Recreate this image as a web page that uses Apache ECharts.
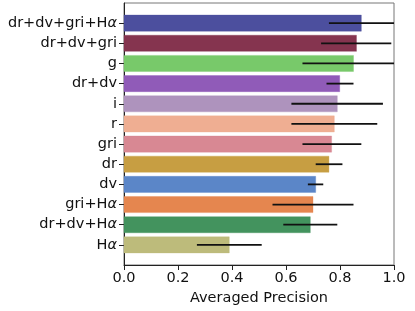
<!DOCTYPE html>
<html><head><meta charset="utf-8">
<script src="https://cdn.jsdelivr.net/npm/echarts@6/dist/echarts.min.js"></script>
<style>html,body{margin:0;padding:0;background:#fff}#c{width:415px;height:311px}</style>
</head><body><div id="c"></div>
<script>
const categories = ['dr+dv+gri+Hα','dr+dv+gri','g','dr+dv','i','r','gri','dr','dv','gri+Hα','dr+dv+Hα','Hα'];
const values = [0.879,0.861,0.850,0.799,0.790,0.779,0.769,0.759,0.710,0.700,0.690,0.390];
const errLow = [0.759,0.730,0.661,0.750,0.620,0.620,0.661,0.710,0.681,0.550,0.590,0.270];
const errHigh = [1.0,0.990,1.0,0.850,0.959,0.938,0.879,0.809,0.738,0.850,0.790,0.510];
const xTicks = [0,0.2,0.4,0.6,0.8,1.0];
const colors = ['#4c4f9e','#85344f','#78c96a','#905bb8','#ae93bd','#efae92','#d88893','#c79e42','#5b86c8','#e5864f','#43935e','#bdbb7b'];

function hexA(h,a){const n=parseInt(h.slice(1),16);return `rgba(${n>>16},${(n>>8)&255},${n&255},${a})`;}
function fmtLabel(s){ return s.replace(/α/g,'{a|α}'); }
const font = 'DejaVu Sans';
const fs = 14.5;
const chart = echarts.init(document.getElementById('c'),null,{renderer:'canvas'});
chart.setOption({
  animation:false,
  grid:{left:124,right:21,top:3,bottom:46,show:true,borderColor:'#777',borderWidth:1,backgroundColor:'transparent'},
  xAxis:{type:'value',min:xTicks[0],max:xTicks[xTicks.length-1],interval:0.2,
    axisLine:{show:true,onZero:false,lineStyle:{color:'#222',width:1}},
    axisTick:{show:true,length:5,lineStyle:{color:'#222'}},
    splitLine:{show:false},
    axisLabel:{color:'#111',fontFamily:font,fontSize:fs,margin:6,formatter:v=>v.toFixed(1)},
    name:'Averaged Precision',nameLocation:'middle',nameGap:24,
    nameTextStyle:{color:'#111',fontFamily:font,fontSize:fs}},
  yAxis:{type:'value',min:-1,max:12,inverse:true,
    axisLine:{show:true,onZero:false,lineStyle:{color:'#222',width:1}},
    axisTick:{show:true,length:5,lineStyle:{color:'#222'},customValues:categories.map((c,i)=>i)},
    splitLine:{show:false},
    axisLabel:{customValues:categories.map((c,i)=>i),color:'#111',fontFamily:font,fontSize:fs,margin:7,
      formatter:v=>{const i=Math.round(v);return (i>=0&&i<categories.length)?fmtLabel(categories[i]):'';},
      rich:{a:{fontFamily:font,fontSize:fs,fontStyle:'italic',color:'#111'}}}},
  series:[
    {type:'custom',
      data:values.map((v,i)=>[v,i]),
      renderItem:(params,api)=>{
        const i=api.value(1);
        const p0=api.coord([0,i-0.4]);
        const p1=api.coord([api.value(0),i+0.4]);
        const c=colors[params.dataIndex];
        return {type:'rect',shape:{x:p0[0],y:Math.min(p0[1],p1[1]),width:p1[0]-p0[0],height:Math.abs(p1[1]-p0[1])},
          style:{fill:c,stroke:hexA(c,0.35),lineWidth:1}};
      },
      encode:{x:0,y:1}},
    {type:'custom',z:10,
      data:errLow.map((l,i)=>[l,errHigh[i],i]),
      renderItem:(params,api)=>{
        const a=api.coord([api.value(0),api.value(2)]);
        const b=api.coord([api.value(1),api.value(2)]);
        return {type:'line',shape:{x1:a[0],y1:a[1],x2:b[0],y2:b[1]},style:{stroke:'#111',lineWidth:1.8}};
      },
      encode:{x:[0,1],y:2}}
  ]
});
</script></body></html>
